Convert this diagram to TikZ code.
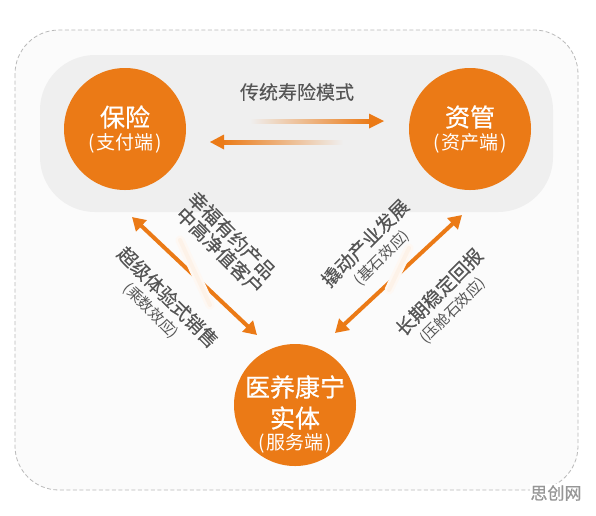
\documentclass[tikz,border=0pt]{standalone}
\usepackage{fontspec}
\setmainfont{Noto Sans CJK SC}
\newfontfamily\medfont[FakeBold=0.6]{Noto Sans CJK SC}
\newfontfamily\semifont[FakeBold=0.2]{Noto Sans CJK SC}
\usetikzlibrary{arrows.meta}
\definecolor{orng}{RGB}{235,122,22}
\definecolor{band}{RGB}{239,239,239}
\definecolor{inner}{RGB}{251,251,251}
\definecolor{txt}{RGB}{85,85,85}
\definecolor{dashc}{RGB}{185,185,185}
\definecolor{wm}{RGB}{150,150,150}
\newcommand{\pk}{\kern2pt}
\begin{document}
\begin{tikzpicture}[x=1pt,y=-1pt,
  hub/.style={circle, fill=orng, minimum size=122pt, inner sep=0pt},
  big/.style={text=white, font=\medfont\fontsize{25}{28}\selectfont, inner sep=0pt},
  sub/.style={text=white, font=\fontsize{19}{21}\selectfont, inner sep=0pt},
  lbl/.style={text=txt, font=\semifont\fontsize{19}{21}\selectfont, inner sep=0pt},
  lblsub/.style={text=txt, font=\fontsize{15}{17}\selectfont, inner sep=0pt},
  solidarrow/.style={draw=orng, line width=4pt, {Triangle[length=13pt,width=15pt]}-{Triangle[length=13pt,width=15pt]}},
  streak/.style={line cap=round},
]
\useasboundingbox (0,0) rectangle (596,515);
\fill[white] (0,0) rectangle (596,515);
\draw[dashc, fill=inner, dash pattern=on 4pt off 2.5pt, line width=0.8pt, rounded corners=44pt] (15,30) rectangle (578,490);
\fill[band, rounded corners=55pt] (40,55) rectangle (553,212);

% hubs
\node[hub] (bx) at (125,129) {};
\node[big] (bxt) at (125,117) {保险};
\node[sub] (bxs) at (125,143) {(\pk 支付端\pk)};
\node[hub] (zg) at (470,129) {};
\node[big] (zgt) at (470,117) {资管};
\node[sub] (zgs) at (470,143) {(\pk 资产端\pk)};
\node[hub] (yy) at (295,405) {};
\node[big] (yyt) at (295,387) {医养康宁};
\node[big] (yyt2) at (295,418) {实体};
\node[sub] (yys) at (295,443) {(\pk 服务端\pk)};

% top label and horizontal arrows
\node[lbl] (mode) at (297,92) {传统寿险模式};
\coordinate (h1a) at (250,121);
\coordinate (h1b) at (384,121);
\shade[left color=band, right color=orng] (250,119) rectangle (371,123);
\fill[orng] (369,113.5) -- (h1b) -- (369,128.5) -- cycle;
\coordinate (h2a) at (343,142);
\coordinate (h2b) at (210,142);
\shade[left color=orng, right color=band] (222,140) rectangle (343,144);
\fill[orng] (224,134.5) -- (h2b) -- (224,149.5) -- cycle;

% diagonal arrows
\coordinate (la1) at (132,217);
\coordinate (la2) at (257,335);
\draw[solidarrow] (la1) -- (la2);
\coordinate (ra1) at (462,215);
\coordinate (ra2) at (335,333);
\draw[solidarrow] (ra1) -- (ra2);

% faint streaks
\coordinate (ls1) at (180,240);
\coordinate (ls2) at (210,305);
\draw[streak, orng!5, line width=9pt] (ls1) -- (ls2);
\draw[streak, orng!10, line width=4pt] (ls1) -- (ls2);
\coordinate (rs1) at (409,248);
\coordinate (rs2) at (389,290);
\draw[streak, orng!5, line width=9pt] (rs1) -- (rs2);
\draw[streak, orng!10, line width=4pt] (rs1) -- (rs2);

% diagonal labels
\node[lbl, rotate=-45] (l1) at (168,297) {超级体验式销售};
\node[lblsub, rotate=-45] (l1s) at (151,311) {(乘数效应)};
\node[lbl, rotate=-45] (l2) at (232,235) {幸福有约产品};
\node[lbl, rotate=-45] (l3) at (220,251) {中高净值客户};
\node[lbl, rotate=45] (r1) at (365,243) {撬动产业发展};
\node[lblsub, rotate=45] (r1s) at (382,258) {(基石效应)};
\node[lbl, rotate=45] (r2) at (439,292) {长期稳定回报};
\node[lblsub, rotate=45] (r2s) at (453,311) {(压舱石效应)};

% watermark
\node[fill=white, text=wm, font=\medfont\fontsize{17}{19}\selectfont, inner sep=1pt] (wmk) at (556,493) {思创网};
\end{tikzpicture}
\end{document}
